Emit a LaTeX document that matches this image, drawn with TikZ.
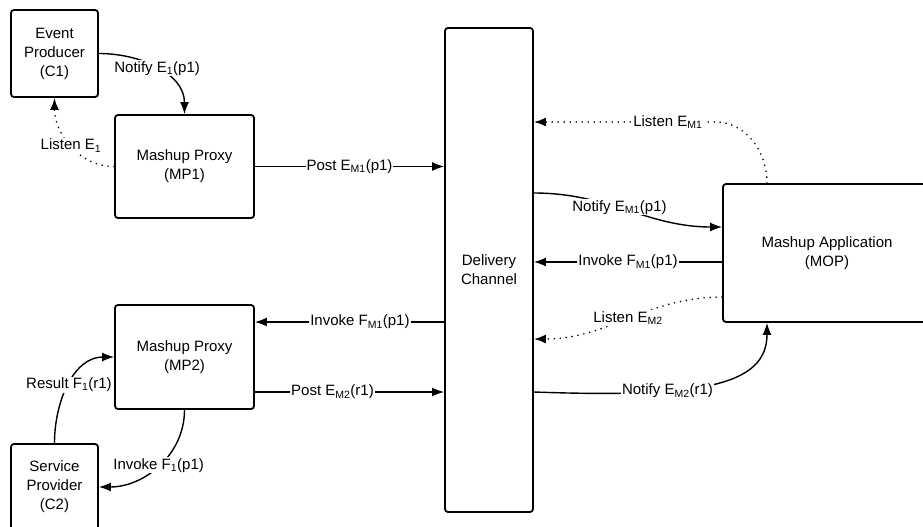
\documentclass[tikz,border=0pt]{standalone}
\usepackage{fontspec}
\setmainfont{Liberation Sans}
\usetikzlibrary{arrows.meta,positioning,calc}
\tikzset{
block/.style = {draw, fill=white, rectangle, rounded corners=3pt, line width=1.8pt, align=center},
msg/.style   = {line width=1.4pt},
listen/.style = {line width=1.8pt, line cap=round, dash pattern=on 0pt off 6pt},
lbl/.style   = {fill=white, inner sep=1pt},
tmp/.style   = {coordinate}
}

\begin{document}
\begin{tikzpicture}[x=1pt, y=-1pt, >={Latex[length=12pt,width=9pt]}, font=\fontsize{15}{19}\selectfont]
  \useasboundingbox (0,0) rectangle (923,527);

  \node [block, minimum width=87pt, minimum height=87pt]                          (prod)  at (54.5,53.5) {Event\\Producer\\(C1)};
  \node [block, minimum width=139pt, minimum height=103pt]                        (mp1)   at (184.5,166.5) {Mashup Proxy\\(MP1)};
  \node [block, minimum width=139pt, minimum height=104pt, below of=mp1, node distance=190.5pt] (mp2) {Mashup Proxy\\(MP2)};
  \node [block, minimum width=87pt, minimum height=86pt, below of=prod, node distance=433.5pt]  (serv) {Service\\Provider\\(C2)};
  \node [block, minimum width=88pt, minimum height=484pt]                         (dc)    at (489,270) {Delivery\\Channel};
  \node [block, minimum width=208pt, minimum height=138pt]                        (mop)   at (827,253) {Mashup Application\\(MOP)};

  % points on the borders
  \coordinate (invl)  at ([yshift=35pt]mp2.east);
  \coordinate (postl) at ([yshift=-35pt]mp2.east);
  \coordinate (lsn1)  at ([xshift=-60pt]mop.north);
  \coordinate (ntf2)  at ([xshift=-60pt]mop.south);
  \coordinate (ntf1)  at ([yshift=26pt]mop.west);
  \coordinate (invr)  at ([yshift=-9pt]mop.west);
  \coordinate (lsn2)  at ([yshift=-44pt]mop.west);
  \node [tmp] (bend1) at (715,122) {};

  % left side
  \draw [msg, ->] (prod.east) to[out=0, in=90] node[lbl] {Notify E\textsubscript{1}(p1)} (mp1.north);
  \draw [listen, ->] (mp1.west) to[out=180, in=-90] node[lbl] {Listen E\textsubscript{1}} (prod.south);
  \draw [msg, ->] (serv.north) to[out=90, in=180] node[lbl] {Result F\textsubscript{1}(r1)} (mp2.west);
  \draw [msg, ->] (mp2.south) to[out=-90, in=0] node[lbl] {Invoke F\textsubscript{1}(p1)} (serv.east);

  % proxies and channel
  \draw [msg, ->] (mp1.east) -- node[lbl] {Post E\textsubscript{M1}(p1)} (mp1.east -| dc.west);
  \draw [msg, ->] (invl -| dc.west) -- node[lbl, pos=0.445] {Invoke F\textsubscript{M1}(p1)} (invl);
  \draw [msg, ->] (postl) -- node[lbl, pos=0.41] {Post E\textsubscript{M2}(r1)} (postl -| dc.west);

  % channel and application
  \draw [listen, ->] (lsn1) to[out=90, in=0] (bend1) -- node[lbl, pos=0.26] {Listen E\textsubscript{M1}} (bend1 -| dc.east);
  \draw [msg, ->] (dc.east |- 0,193) to[out=0, in=180] node[lbl, pos=0.45] {Notify E\textsubscript{M1}(p1)} (ntf1);
  \draw [msg, ->] (invr) -- node[lbl] {Invoke F\textsubscript{M1}(p1)} (invr -| dc.east);
  \draw [listen, ->] (lsn2) to[out=180, in=0] node[lbl] {Listen E\textsubscript{M2}} (dc.east |- 0,339);
  \draw [msg, ->] (dc.east |- 0,392) .. controls +(167,6) and +(0,63) .. node[lbl, pos=0.33] {Notify E\textsubscript{M2}(r1)} (ntf2);
\end{tikzpicture}
\end{document}
